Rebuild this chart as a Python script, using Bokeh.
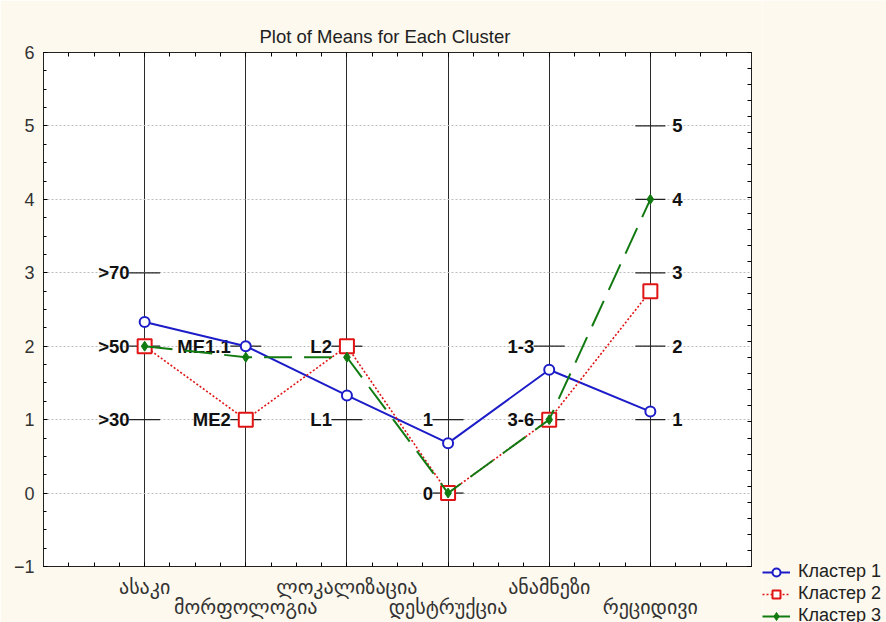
from bokeh.plotting import figure
from bokeh.layouts import row
from bokeh.models import (FixedTicker, LinearAxis, Range1d, Legend, LegendItem,
                          ColumnDataSource, CustomJSTickFormatter)
from bokeh.core.properties import value
from bokeh.embed import file_html
from bokeh.resources import INLINE

# ---------------- data ----------------
categories = ["ასაკი", "მორფოლოგია", "ლოკალიზაცია", "დესტრუქცია", "ანამნეზი", "რეციდივი"]
cat_pos = [1, 2, 3, 4, 5, 6]
cluster1 = [2.33, 2.0, 1.33, 0.68, 1.68, 1.11]
cluster2 = [2.0, 1.0, 2.0, 0.0, 1.0, 2.75]
cluster3 = [2.0, 1.85, 1.85, 0.0, 1.0, 4.0]
series_names = ["Кластер 1", "Кластер 2", "Кластер 3"]

# per-variable scale labels (left side of the variable line)
scale_x = [1, 1, 1, 2, 2, 3, 3, 4, 4, 5, 5]
scale_y = [3, 2, 1, 2, 1, 2, 1, 1, 0, 2, 1]
scale_text = [">70", ">50", ">30", "ME1.1", "ME2", "L2", "L1", "1", "0", "1-3", "3-6"]
# scale labels on the right side of the last variable
rscale_x = [6, 6, 6, 6, 6]
rscale_y = [5, 4, 3, 2, 1]
rscale_text = ["5", "4", "3", "2", "1"]

y_ticks = [-1, 0, 1, 2, 3, 4, 5, 6]
title_text = "Plot of Means for Each Cluster"

# ---------------- figure ----------------
BG = "#fdf9ee"
BLUE, RED, GREEN = "#1c1cc8", "#e01414", "#117a11"

p = figure(width=762, height=622, x_range=Range1d(0, 7), y_range=Range1d(-1, 6),
           output_backend="svg", toolbar_location=None, frame_align=False,
           min_border_left=43, min_border_right=11, min_border_top=52, min_border_bottom=56,
           background_fill_color="white", border_fill_color=BG,
           outline_line_color="#222222")

p.title.text = title_text
p.title.align = "left"
p.title.offset = 216
p.title.standoff = 12
p.title.text_font = "Liberation Sans"
p.title.text_font_size = "18.5px"
p.title.text_font_style = "normal"
p.title.text_color = "#222222"

quarter = [i * 0.25 for i in range(0, 29)]
yquarter = [-1 + i * 0.25 for i in range(0, 29)]
blank = CustomJSTickFormatter(code="return ''")

# bottom axis
xa = p.xaxis[0]
xa.ticker = FixedTicker(ticks=cat_pos, minor_ticks=quarter)
xa.major_label_overrides = {c: (lab if i % 2 == 0 else "\n" + lab)
                            for i, (c, lab) in enumerate(zip(cat_pos, categories))}
xa.major_label_text_font = "DejaVu Sans"
xa.major_label_text_font_size = "20px"
xa.major_label_text_line_height = 0.85
xa.major_label_text_color = "#333333"
xa.major_label_standoff = 8
xa.major_tick_in = 4
xa.major_tick_out = 0
xa.minor_tick_in = 4
xa.minor_tick_out = 0
xa.axis_line_color = "#222222"

# left axis
ya = p.yaxis[0]
ya.ticker = FixedTicker(ticks=y_ticks, minor_ticks=yquarter)
ya.major_label_text_font = "Liberation Sans"
ya.major_label_text_font_size = "18px"
ya.major_label_text_color = "#333333"
ya.major_label_standoff = 9
ya.major_tick_in = 4
ya.major_tick_out = 0
ya.minor_tick_in = 3
ya.minor_tick_out = 0
ya.axis_line_color = "#222222"

# top axis (ticks only)
top = LinearAxis(ticker=FixedTicker(ticks=cat_pos, minor_ticks=quarter), formatter=blank,
                 major_label_standoff=0,
                 major_tick_in=4, major_tick_out=0, minor_tick_in=4, minor_tick_out=0,
                 axis_line_color="#222222")
p.add_layout(top, "above")

# right axis (ticks only)
p.extra_y_ranges = {"r": Range1d(0, 32)}
right = LinearAxis(y_range_name="r", ticker=FixedTicker(ticks=list(range(33))),
                   formatter=blank, major_label_standoff=0,
                   major_tick_in=4, major_tick_out=0, minor_tick_in=0, minor_tick_out=0,
                   axis_line_color="#222222")
p.add_layout(right, "right")

# grids
p.xgrid.ticker = FixedTicker(ticks=cat_pos)
p.xgrid.grid_line_color = "#2a2a2a"
p.xgrid.grid_line_width = 1
p.ygrid.ticker = FixedTicker(ticks=y_ticks)
p.ygrid.grid_line_color = "#bdbdbd"
p.ygrid.grid_line_dash = "2 2"

# scale ticks and labels
p.scatter(x=scale_x, y=scale_y, marker="dash", size=31, line_color="#222222", line_width=1.3)
p.scatter(x=rscale_x, y=rscale_y, marker="dash", size=30, line_color="#222222", line_width=1.3)
p.text(x=scale_x, y=scale_y, text=scale_text, x_offset=-15, text_align="right",
       text_baseline="middle", text_font=value("Liberation Sans"), text_font_style="bold",
       text_font_size=value("18.5px"), text_color="#111111")
p.text(x=rscale_x, y=rscale_y, text=rscale_text, x_offset=22, text_align="left",
       text_baseline="middle", text_font=value("Liberation Sans"), text_font_style="bold",
       text_font_size=value("18.5px"), text_color="#111111")

# series
src = ColumnDataSource(dict(x=cat_pos, c1=cluster1, c2=cluster2, c3=cluster3))


def draw_series(fig):
    l1 = fig.line("x", "c1", source=src, line_color=BLUE, line_width=2)
    s1 = fig.scatter("x", "c1", source=src, marker="circle", size=10, line_color=BLUE,
                     line_width=2, fill_color="white")
    l2 = fig.line("x", "c2", source=src, line_color=RED, line_width=1.6, line_dash="2 2")
    s2 = fig.scatter("x", "c2", source=src, marker="square", size=14, line_color=RED,
                     line_width=2, fill_color="white")
    l3 = fig.line("x", "c3", source=src, line_color=GREEN, line_width=2, line_dash="28 12")
    s3 = fig.scatter("x", "c3", source=src, marker="diamond", size=10, line_color=GREEN,
                     fill_color=GREEN)
    return [(l1, s1), (l2, s2), (l3, s3)]


draw_series(p)

# legend panel (separate figure to the right, same series, data kept out of view)
q = figure(width=124, height=622, x_range=Range1d(-100, -99), y_range=Range1d(-100, -99),
           output_backend="svg", toolbar_location=None, x_axis_type=None, y_axis_type=None,
           min_border=0, frame_align=False, background_fill_color=BG, border_fill_color=BG,
           outline_line_color=None)
q.grid.visible = False
rends = draw_series(q)
legend = Legend(items=[LegendItem(label=name, renderers=list(r))
                       for name, r in zip(series_names, rends)],
                location=(0, -4), padding=0, spacing=1, margin=0,
                label_height=20, glyph_height=20, glyph_width=28, label_standoff=8,
                label_text_font="Liberation Sans", label_text_font_size="18px",
                label_text_color="#222222",
                background_fill_alpha=0, border_line_color=None)
q.add_layout(legend)

layout = row(p, q, spacing=0)
open("out.html", "w").write(file_html(layout, INLINE))
